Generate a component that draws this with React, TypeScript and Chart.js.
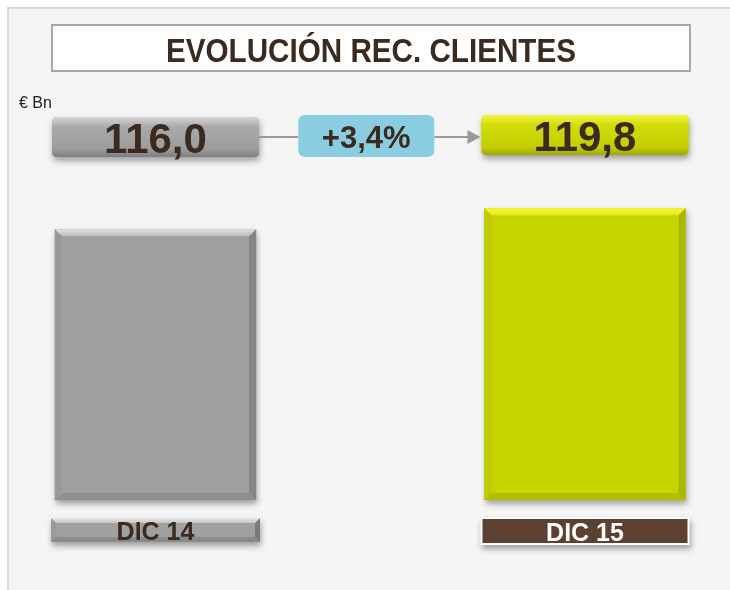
import { useEffect, useRef } from 'react';
import { Chart, registerables } from 'chart.js';

Chart.register(...registerables);

const chartTitle = 'EVOLUCIÓN REC. CLIENTES';
const unitLabel = '€ Bn';
const categories = ['DIC 14', 'DIC 15'];
const values = [116.0, 119.8];
const changeLabel = '+3,4%';
const axisMin = 67;
const axisMax = 125;

const barColors = ['#a0a0a0', '#c6d400'];
const FONT = '"Liberation Sans", Arial, sans-serif';
const TEXT = '#3b2a1f';

const fmt = (v: number) => v.toFixed(1).replace('.', ',');

function roundRect(ctx: CanvasRenderingContext2D, x: number, y: number, w: number, h: number, r: number) {
  ctx.beginPath();
  ctx.moveTo(x + r, y);
  ctx.lineTo(x + w - r, y);
  ctx.quadraticCurveTo(x + w, y, x + w, y + r);
  ctx.lineTo(x + w, y + h - r);
  ctx.quadraticCurveTo(x + w, y + h, x + w - r, y + h);
  ctx.lineTo(x + r, y + h);
  ctx.quadraticCurveTo(x, y + h, x, y + h - r);
  ctx.lineTo(x, y + r);
  ctx.quadraticCurveTo(x, y, x + r, y);
  ctx.closePath();
}

function bevel(
  ctx: CanvasRenderingContext2D,
  L: number, T: number, R: number, B: number, b: number,
  top: any, left: string, right: string, bottom: string
) {
  const poly = (pts: number[][], c: any) => {
    ctx.beginPath();
    ctx.moveTo(pts[0][0], pts[0][1]);
    for (let i = 1; i < pts.length; i++) ctx.lineTo(pts[i][0], pts[i][1]);
    ctx.closePath();
    ctx.fillStyle = c;
    ctx.fill();
  };
  poly([[L, T], [L + b, T + b], [L + b, B - b], [L, B]], left);
  poly([[R, T], [R, B], [R - b, B - b], [R - b, T + b]], right);
  poly([[L, B], [L + b, B - b], [R - b, B - b], [R, B]], bottom);
  poly([[L, T], [R, T], [R - b, T + b], [L + b, T + b]], top);
}

function text(ctx: CanvasRenderingContext2D, s: string, x: number, y: number, font: string, color: string, maxW?: number, align: CanvasTextAlign = 'center') {
  ctx.font = font;
  ctx.fillStyle = color;
  ctx.textAlign = align;
  ctx.textBaseline = 'alphabetic';
  if (maxW) ctx.fillText(s, x, y, maxW);
  else ctx.fillText(s, x, y);
}

function withShadow(ctx: CanvasRenderingContext2D, fn: () => void) {
  ctx.save();
  ctx.shadowColor = 'rgba(0,0,0,0.35)';
  ctx.shadowBlur = 6;
  ctx.shadowOffsetX = 1;
  ctx.shadowOffsetY = 4;
  fn();
  ctx.restore();
}

const decorPlugin = {
  id: 'decor',
  beforeDraw(chart: any) {
    const ctx = chart.ctx as CanvasRenderingContext2D;
    ctx.save();
    ctx.fillStyle = '#ffffff';
    ctx.fillRect(0, 0, chart.width, chart.height);
    ctx.fillStyle = '#f5f5f5';
    ctx.fillRect(8, 8, chart.width, chart.height);
    ctx.strokeStyle = '#d9d9d9';
    ctx.lineWidth = 2;
    ctx.beginPath();
    ctx.moveTo(8, chart.height);
    ctx.lineTo(8, 8);
    ctx.lineTo(chart.width, 8);
    ctx.stroke();
    ctx.fillStyle = '#ffffff';
    ctx.fillRect(52, 25, 638, 46);
    ctx.strokeStyle = '#a6a6a6';
    ctx.lineWidth = 2;
    ctx.strokeRect(52, 25, 638, 46);
    text(ctx, chartTitle, 371, 62, `bold 33px ${FONT}`, TEXT, 410);
    text(ctx, unitLabel, 19, 108, `16px ${FONT}`, '#222222', 37, 'left');
    ctx.restore();
  },
  beforeDatasetsDraw(chart: any) {
    const ctx = chart.ctx as CanvasRenderingContext2D;
    const meta = chart.getDatasetMeta(0);
    meta.data.forEach((el: any, i: number) => {
      const p = el.getProps(['x', 'y', 'base', 'width'], true);
      withShadow(ctx, () => {
        ctx.fillStyle = barColors[i];
        ctx.fillRect(p.x - p.width / 2, p.y, p.width, p.base - p.y);
      });
    });
  },
  afterDatasetsDraw(chart: any) {
    const ctx = chart.ctx as CanvasRenderingContext2D;
    const meta = chart.getDatasetMeta(0);
    const pts = meta.data.map((el: any) => el.getProps(['x', 'y', 'base', 'width'], true));
    ctx.save();
    pts.forEach((p: any, i: number) => {
      const L = p.x - p.width / 2, R = p.x + p.width / 2, T = p.y, B = p.base;
      if (i === 0) {
        const g = ctx.createLinearGradient(0, T, 0, T + 8);
        g.addColorStop(0, '#e4e4e4');
        g.addColorStop(1, '#b4b4b4');
        bevel(ctx, L, T, R, B, 7, g, '#999999', '#858585', '#8f8f8f');
      } else {
        const g = ctx.createLinearGradient(0, T, 0, T + 8);
        g.addColorStop(0, '#f8f83a');
        g.addColorStop(1, '#dde61c');
        bevel(ctx, L, T, R, B, 7, g, '#bfcb00', '#aab500', '#b3be00');
      }
    });

    const boxTop = [117, 115];
    const boxBot = [157, 155];
    pts.forEach((p: any, i: number) => {
      const w = p.width + 6;
      const L = p.x - w / 2;
      const T = boxTop[i], H = boxBot[i] - boxTop[i];
      withShadow(ctx, () => {
        roundRect(ctx, L, T, w, H, 5);
        ctx.fillStyle = barColors[i];
        ctx.fill();
      });
      const g = ctx.createLinearGradient(0, T, 0, T + H);
      if (i === 0) {
        g.addColorStop(0, '#d6d6d6');
        g.addColorStop(0.25, '#a9a9a9');
        g.addColorStop(0.8, '#9c9c9c');
        g.addColorStop(1, '#7f7f7f');
      } else {
        g.addColorStop(0, '#f4f640');
        g.addColorStop(0.25, '#d2dc08');
        g.addColorStop(0.8, '#c3cf00');
        g.addColorStop(1, '#9ea800');
      }
      roundRect(ctx, L, T, w, H, 5);
      ctx.fillStyle = g;
      ctx.fill();
      text(ctx, fmt(values[i]), p.x, T + 36, `bold 42px ${FONT}`, TEXT);
    });

    const leftEdge = pts[0].x + (pts[0].width + 6) / 2;
    const rightEdge = pts[1].x - (pts[1].width + 6) / 2;
    const pillW = 136, pillH = 42;
    const pillX = (leftEdge + rightEdge) / 2 - 4 - pillW / 2;
    const lineY = 137;
    ctx.strokeStyle = '#9a9a9a';
    ctx.lineWidth = 2;
    ctx.beginPath();
    ctx.moveTo(leftEdge, lineY);
    ctx.lineTo(pillX, lineY);
    ctx.moveTo(pillX + pillW, lineY);
    ctx.lineTo(rightEdge - 13, lineY);
    ctx.stroke();
    ctx.fillStyle = '#9a9a9a';
    ctx.beginPath();
    ctx.moveTo(rightEdge - 1, lineY);
    ctx.lineTo(rightEdge - 14, lineY - 7);
    ctx.lineTo(rightEdge - 14, lineY + 7);
    ctx.closePath();
    ctx.fill();
    roundRect(ctx, pillX, 115, pillW, pillH, 7);
    ctx.fillStyle = '#8acde0';
    ctx.fill();
    text(ctx, changeLabel, pillX + pillW / 2, 148, `bold 31px ${FONT}`, TEXT);

    pts.forEach((p: any, i: number) => {
      if (i === 0) {
        const w = p.width + 8;
        const L = p.x - w / 2, T = 518, H = 24;
        withShadow(ctx, () => {
          ctx.fillStyle = '#a0a0a0';
          ctx.fillRect(L, T, w, H);
        });
        const g = ctx.createLinearGradient(0, T, 0, T + 6);
        g.addColorStop(0, '#e8e8e8');
        g.addColorStop(1, '#bdbdbd');
        bevel(ctx, L, T, L + w, T + H, 5, g, '#9a9a9a', '#7a7a7a', '#8a8a8a');
        text(ctx, categories[i], p.x, 540, `bold 25px ${FONT}`, TEXT, 78);
      } else {
        const w = p.width + 6;
        const L = p.x - w / 2, T = 518, H = 26;
        withShadow(ctx, () => {
          ctx.fillStyle = '#ffffff';
          ctx.fillRect(L - 1, T - 1, w + 2, H + 2);
        });
        ctx.fillStyle = '#5c4130';
        ctx.fillRect(L + 1, T + 1, w - 2, H - 2);
        text(ctx, categories[i], p.x, 541, `bold 25px ${FONT}`, '#ffffff', 78);
      }
    });
    ctx.restore();
  },
};

export default function App() {
  const ref = useRef<HTMLCanvasElement | null>(null);
  useEffect(() => {
    if (!ref.current) return;
    const chart = new Chart(ref.current, {
      type: 'bar',
      data: {
        labels: categories,
        datasets: [
          {
            data: values,
            backgroundColor: barColors,
            borderWidth: 0,
            barThickness: 201,
            base: axisMin,
            clip: false as any,
          } as any,
        ],
      },
      options: {
        responsive: false,
        animation: false,
        devicePixelRatio: 1,
        layout: { padding: { left: 155.5, right: 145, top: 179.5, bottom: 90 } },
        plugins: { legend: { display: false }, tooltip: { enabled: false }, title: { display: false } },
        scales: {
          x: { display: false, offset: false, grid: { display: false } },
          y: { display: false, min: axisMin, max: axisMax, grid: { display: false } },
        },
      },
      plugins: [decorPlugin],
    });
    return () => chart.destroy();
  }, []);
  return (
    <div style={{ position: 'absolute', left: 0, top: 0, width: 730, height: 590 }}>
      <canvas ref={ref} width={730} height={590} style={{ display: 'block' }} />
    </div>
  );
}
